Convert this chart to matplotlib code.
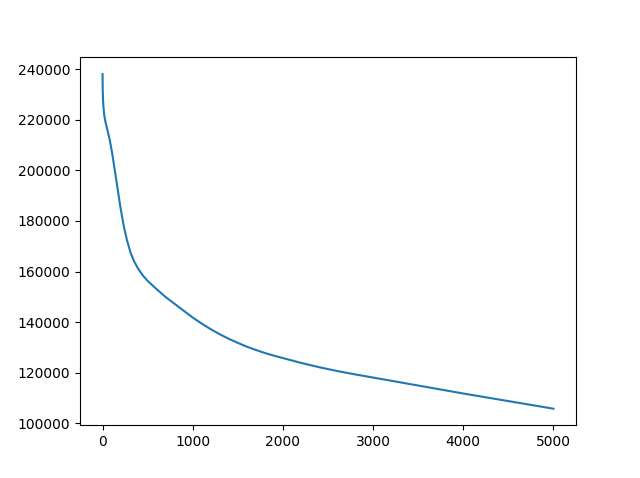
import matplotlib
matplotlib.use('Agg')
import matplotlib.pyplot as plt

# iteration vs cost
steps = [0, 2, 5, 10, 20, 30, 50, 80, 110, 140, 170, 200, 235, 270, 310, 350,
         400, 450, 500, 600, 700, 800, 900, 1000, 1100, 1200, 1300, 1400,
         1500, 1600, 1700, 1800, 1900, 2000, 2200, 2400, 2600, 2800, 3000,
         3500, 4000, 4500, 5000]
cost = [238000, 232000, 228000, 225000, 221500, 219500, 216500, 212000,
        206000, 199000, 192000, 185000, 178000, 172500, 167500, 164000,
        160800, 158300, 156300, 153000, 149900, 147200, 144500, 141800,
        139400, 137200, 135200, 133400, 131800, 130300, 129000, 127800,
        126750, 125800, 123900, 122200, 120700, 119350, 118100,
        114950, 111800, 108800, 105800]

fig = plt.figure(figsize=(6.4, 4.78), dpi=100)
plt.plot(steps, cost)
plt.savefig('out.png')
